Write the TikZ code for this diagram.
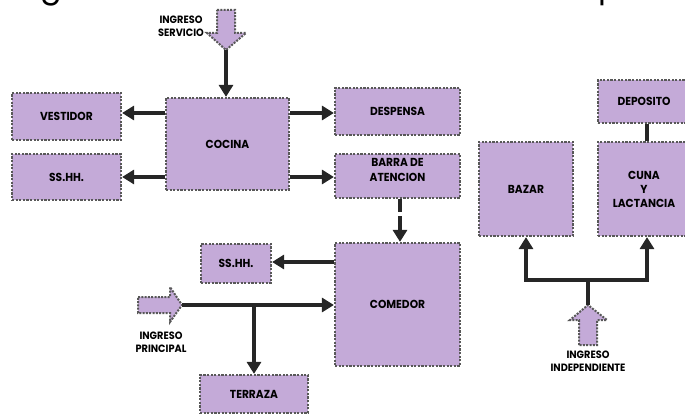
\documentclass[tikz,border=0pt]{standalone}
\usepackage{fontspec}
\setmainfont{Poppins}[FakeStretch=0.92]
\newfontfamily\titlefont{Poppins}
\usetikzlibrary{arrows.meta}
\definecolor{boxfill}{RGB}{196,170,216}
\definecolor{dotgray}{RGB}{88,88,88}
\definecolor{arrowdark}{RGB}{38,38,38}
\begin{document}
\begin{tikzpicture}[x=1pt,y=-1pt,
  room/.style={draw=dotgray,fill=boxfill,line width=2.2pt,dash pattern=on 2.2pt off 1.4pt,
    rectangle,inner sep=0pt,font=\bfseries\fontsize{11.6}{15}\selectfont,align=center,text=black},
  lbl/.style={font=\bfseries\fontsize{10.6}{13}\selectfont,align=center,inner sep=0pt},
  flow/.style={draw=arrowdark,line width=4pt,-{Triangle[length=12pt,width=14pt]}},
  link/.style={draw=arrowdark,line width=4pt},
  entry/.style={draw=dotgray,fill=boxfill,line width=2pt,dash pattern=on 2pt off 1.3pt,line join=miter},
  frag/.style={anchor=south west,inner sep=0pt,font=\titlefont\fontsize{32}{32}\selectfont}]
\useasboundingbox (0,0) rectangle (685,414);
% title fragments cut by the top edge
\node[frag] (tg) at (40,6) {g};
\node[frag] (tp) at (598,6) {p};
% rooms
\node[room,minimum width=109pt,minimum height=47pt] (vest) at (66.5,116.5) {VESTIDOR};
\node[room,minimum width=109pt,minimum height=46pt] (ssl) at (66.5,177) {SS.HH.};
\node[room,minimum width=123pt,minimum height=92pt] (coc) at (227.5,144) {COCINA};
\node[room,minimum width=125pt,minimum height=47pt] (desp) at (397.5,111.5) {DESPENSA};
\node[room,minimum width=125pt,minimum height=44pt] (barra) at (397.5,176) {};
\node[lbl,font=\bfseries\fontsize{11.6}{15}\selectfont] (barratxt) at (397.5,169.5) {BARRA DE\\ATENCION};
\node[room,minimum width=125pt,minimum height=123pt] (com) at (397.5,304.5) {COMEDOR};
\node[room,minimum width=70pt,minimum height=39pt] (ssm) at (236,263.5) {SS.HH.};
\node[room,minimum width=108pt,minimum height=38pt] (terr) at (254,394) {TERRAZA};
\node[room,minimum width=94pt,minimum height=94pt] (bazar) at (526,189) {BAZAR};
\node[room,minimum width=92pt,minimum height=43pt] (dep) at (644,101.5) {DEPOSITO};
\node[room,minimum width=92pt,minimum height=94pt,font=\bfseries\fontsize{11.6}{14}\selectfont] (cuna) at (644,189) {CUNA\\Y\\LACTANCIA};
% entries (block arrows)
\draw[entry] (217,10) -- (235,10) -- (235,33) -- (246,33) -- (226,50) -- (207,33) -- (217,33) -- cycle;
\coordinate (isv) at (226,50);
\node[lbl,anchor=east] (isvt) at (204,26.5) {INGRESO\\SERVICIO};
\draw[entry] (138,297) -- (170,297) -- (170,287) -- (182,305) -- (170,322) -- (170,313) -- (138,313) -- cycle;
\coordinate (ipr) at (182,305);
\node[lbl] (iprt) at (161,342.5) {INGRESO\\PRINCIPAL};
\draw[entry] (579,345) -- (579,320) -- (570,320) -- (588,305) -- (607,320) -- (597,320) -- (597,345) -- cycle;
\coordinate (ind) at (588,305);
\node[lbl] (indt) at (588,361.5) {INGRESO\\INDEPENDIENTE};
% connectors
\draw[flow] (isv) -- (isv |- coc.north);
\draw[flow] (coc.west |- 0,113) -- (vest.east |- 0,113);
\draw[flow] (coc.west |- 0,177) -- (ssl.east |- 0,177);
\draw[flow] (coc.east |- 0,113) -- (desp.west |- 0,113);
\draw[flow] (coc.east |- 0,177) -- (barra.west |- 0,177);
\draw[flow,dash pattern=on 13pt off 4pt on 200pt] (barra.south -| 400,0) -- (com.north -| 400,0);
\draw[flow] (com.west |- 0,262) -- (ssm.east |- 0,262);
\draw[flow] (ipr) -- (com.west |- ipr);
\coordinate (tj) at (254,305);
\draw[flow] (tj) -- (terr.north);
\draw[link] (dep.south -| 647,0) -- (cuna.north -| 647,0);
\coordinate (jn) at (588,280);
\draw[link] (ind) -- (jn);
\draw[flow] (jn) -| (bazar.south);
\draw[flow] (jn) -| (cuna.south -| 647,0);
\end{tikzpicture}
\end{document}
